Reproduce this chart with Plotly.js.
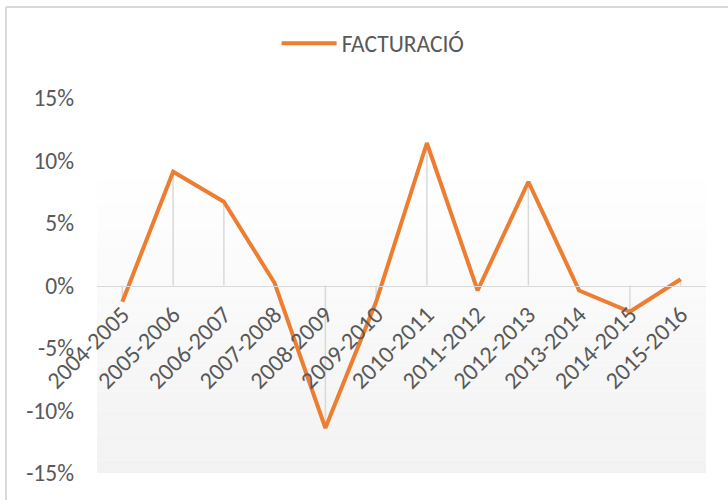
<!DOCTYPE html>
<html>
<head>
<meta charset="utf-8">
<script src="https://cdn.plot.ly/plotly-3.0.1.min.js"></script>
<style>html,body{margin:0;padding:0;background:#fff;}#chart{width:728px;height:500px;}</style>
</head>
<body>
<div id="chart"></div>
<script>
const categories = ["2004-2005","2005-2006","2006-2007","2007-2008","2008-2009","2009-2010","2010-2011","2011-2012","2012-2013","2013-2014","2014-2015","2015-2016"];
const facturacio = [-0.013, 0.091, 0.067, 0.002, -0.114, -0.013, 0.114, -0.004, 0.083, -0.004, -0.021, 0.005];
const seriesName = "FACTURACIÓ";
const yTickValues = [-0.15, -0.10, -0.05, 0, 0.05, 0.10, 0.15];
const yTickLabels = ["-15%", "-10%", "-5%", "0%", "5%", "10%", "15%"];

const FONT = "Carlito, 'Noto Sans', 'Open Sans', sans-serif";
const TXT = "#595959";

// drop lines from each point to zero
const dropX = [], dropY = [];
categories.forEach((c, i) => { dropX.push(c, c, null); dropY.push(0, facturacio[i], null); });

// vertical gradient background in plot area
const shapes = [];
const N = 60;
for (let k = 0; k < N; k++) {
  const t = k / N;
  const v = Math.round(242 + (255 - 242) * Math.min(1, t / 0.8));
  shapes.push({type:'rect', xref:'x domain', yref:'y domain', x0:0, x1:1, y0:t, y1:(k+1)/N,
    fillcolor:`rgb(${v},${v},${v})`, line:{width:0}, layer:'below'});
}

const traces = [
  {x: dropX, y: dropY, type:'scatter', mode:'lines', line:{color:'#d9d9d9', width:1.5}, showlegend:false, hoverinfo:'skip'},
  {x: categories, y: facturacio, type:'scatter', mode:'lines', name: seriesName, line:{color:'#ED7D31', width:4}}
];

const layout = {
  width: 728, height: 500,
  margin: {l:97, r:22, t:98, b:27, pad:0},
  paper_bgcolor:'#ffffff', plot_bgcolor:'rgba(0,0,0,0)',
  font: {family: FONT, color: TXT, size: 23},
  showlegend: true,
  legend: {orientation:'h', xref:'container', yref:'container', x:0.38, xanchor:'left', y:0.913, yanchor:'middle',
    font:{family:FONT, size:23.5, color:TXT}, itemwidth:55, bgcolor:'rgba(0,0,0,0)'},
  xaxis: {type:'category', range:[-0.5, 11.5], anchor:'free', position:0.5, showline:true, linecolor:'#d9d9d9', linewidth:1.5,
    showgrid:false, ticks:'', tickangle:-45, ticklabelstandoff:4, tickfont:{family:FONT, size:24, color:TXT}, fixedrange:true},
  yaxis: {range:[-0.15, 0.15], tickvals:yTickValues, ticktext:yTickLabels, showgrid:false, zeroline:false, showline:false,
    ticks:'', ticklabelstandoff:22, tickfont:{family:FONT, size:23.5, color:TXT}, fixedrange:true},
  shapes: shapes
};

// outer border (top and left), pixel rows/cols converted to paper coords
const pw = 728 - 97 - 22, ph = 500 - 98 - 27;
const yTop = (500 - 27 - 7) / ph;
const xLeft = (6 - 97) / pw;
const xRight = (728 - 97) / pw;
const yBottom = (500 - 27 - 500) / ph;
layout.shapes.push({type:'line', xref:'paper', yref:'paper', x0:xLeft, x1:xRight, y0:yTop, y1:yTop, line:{color:'#d9d9d9', width:2}});
layout.shapes.push({type:'line', xref:'paper', yref:'paper', x0:xLeft, x1:xLeft, y0:yTop, y1:yBottom, line:{color:'#d9d9d9', width:2}});

Plotly.newPlot('chart', traces, layout, {displayModeBar:false, staticPlot:true});
</script>
</body>
</html>
